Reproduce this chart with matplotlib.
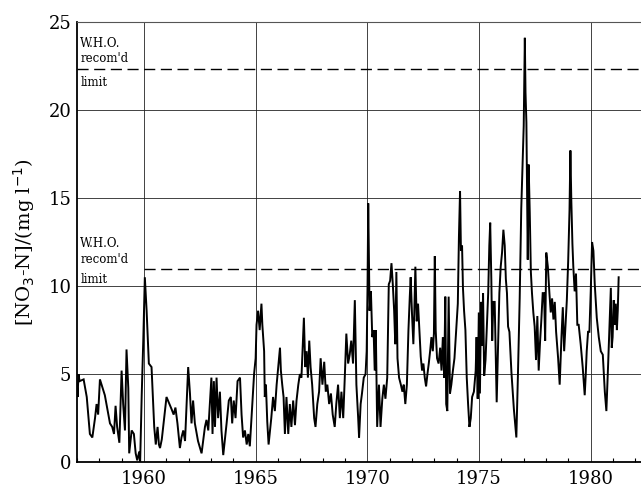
import matplotlib
matplotlib.use("Agg")
import matplotlib.pyplot as plt
import numpy as np

### Nitrate-N series (decimal year, mg/l)
years_early = [1957.0, 1957.03, 1957.07, 1957.12, 1957.3, 1957.44, 1957.58, 1957.69, 1957.81, 1957.88,
               1957.95, 1958.03, 1958.25, 1958.48, 1958.58, 1958.66, 1958.73, 1958.8, 1958.9, 1959.0,
               1959.07, 1959.15, 1959.22, 1959.3, 1959.34, 1959.45, 1959.55, 1959.63, 1959.7, 1959.79,
               1959.83, 1959.9, 1959.97, 1960.04, 1960.12, 1960.22, 1960.34, 1960.46, 1960.53, 1960.61,
               1960.67, 1960.72, 1960.8, 1961.01, 1961.24, 1961.33, 1961.41, 1961.5, 1961.61, 1961.68,
               1961.76, 1961.84, 1961.91, 1961.98, 1962.06, 1962.13, 1962.2, 1962.28, 1962.42, 1962.58,
               1962.73, 1962.8, 1962.88, 1962.95, 1963.02, 1963.07, 1963.13, 1963.18, 1963.25, 1963.32,
               1963.4, 1963.47, 1963.55, 1963.7, 1963.8, 1963.89, 1963.95, 1964.02, 1964.1, 1964.19,
               1964.3, 1964.37, 1964.44, 1964.52, 1964.6, 1964.67, 1964.74, 1964.81, 1964.93]
no3n_early = [4.4, 3.7, 5.0, 4.6, 4.7, 3.7, 1.6, 1.4, 2.5, 3.3,
              2.7, 4.7, 3.8, 2.2, 2.0, 1.6, 3.2, 2.0, 1.1, 5.2,
              3.3, 1.8, 6.4, 4.2, 0.5, 1.8, 1.6, 0.5, 0.1, 0.6,
              0.0, 3.8, 6.9, 10.5, 8.6, 5.6, 5.4, 2.0, 1.0, 2.0,
              1.0, 0.8, 1.3, 3.7, 3.0, 2.7, 3.1, 2.2, 0.8, 1.4,
              1.8, 1.2, 3.3, 5.4, 3.9, 2.2, 3.5, 2.2, 1.2, 0.5,
              2.0, 2.4, 1.8, 3.3, 4.8, 1.6, 4.6, 2.0, 4.8, 2.5,
              4.0, 1.8, 0.4, 2.2, 3.5, 3.7, 2.2, 3.5, 2.5, 4.6,
              4.8, 2.7, 1.4, 1.8, 1.0, 1.6, 0.9, 2.4, 5.0]

years_mid = [1965.0, 1965.04, 1965.11, 1965.18, 1965.26, 1965.3, 1965.38, 1965.41, 1965.46, 1965.52,
             1965.58, 1965.7, 1965.78, 1965.86, 1965.94, 1966.01, 1966.09, 1966.13, 1966.19, 1966.25,
             1966.31, 1966.38, 1966.46, 1966.53, 1966.6, 1966.68, 1966.76, 1966.83, 1966.91, 1966.98,
             1967.05, 1967.1, 1967.16, 1967.22, 1967.28, 1967.34, 1967.4, 1967.46, 1967.53, 1967.62,
             1967.68, 1967.76, 1967.84, 1967.91, 1967.99, 1968.07, 1968.14, 1968.21, 1968.29, 1968.37,
             1968.45, 1968.54, 1968.61, 1968.69, 1968.77, 1968.84, 1968.92, 1968.99, 1969.06, 1969.14,
             1969.21, 1969.28, 1969.36, 1969.44, 1969.51, 1969.59, 1969.63, 1969.7, 1969.76, 1969.84,
             1969.92, 1969.97, 1970.01, 1970.04, 1970.1, 1970.16, 1970.22, 1970.28, 1970.33, 1970.38,
             1970.44, 1970.52, 1970.59, 1970.67, 1970.74, 1970.81, 1970.89, 1970.96, 1971.02, 1971.08,
             1971.14, 1971.2, 1971.25, 1971.3, 1971.35, 1971.42, 1971.5, 1971.57, 1971.63, 1971.7,
             1971.77, 1971.84, 1971.9, 1971.94, 1972.0, 1972.06, 1972.1, 1972.15, 1972.21, 1972.27,
             1972.33, 1972.39, 1972.45, 1972.51, 1972.57, 1972.63, 1972.69, 1972.75, 1972.81, 1972.87,
             1972.93, 1972.98, 1973.02, 1973.06, 1973.12, 1973.19, 1973.26, 1973.32, 1973.38, 1973.44,
             1973.49, 1973.53, 1973.58, 1973.64, 1973.7, 1973.76, 1973.83, 1973.9, 1973.98, 1974.05,
             1974.1, 1974.15, 1974.19, 1974.24, 1974.28, 1974.33, 1974.39, 1974.45, 1974.51, 1974.57,
             1974.63, 1974.69, 1974.77, 1974.85, 1974.89, 1974.94]
no3n_mid = [5.9, 7.8, 8.6, 7.5, 9.0, 7.8, 6.3, 3.7, 4.4, 2.3,
            1.0, 2.5, 3.7, 2.9, 4.4, 5.4, 6.5, 5.2, 4.4, 3.7,
            1.6, 3.7, 1.6, 3.3, 2.0, 3.5, 2.1, 3.5, 4.4, 5.0,
            4.8, 6.3, 8.2, 5.4, 6.3, 4.8, 6.9, 5.4, 4.4, 2.5,
            2.0, 3.3, 4.0, 5.9, 4.4, 5.7, 4.0, 4.4, 3.3, 3.9,
            2.7, 2.0, 3.3, 4.4, 2.5, 4.0, 2.5, 4.8, 7.3, 5.6,
            6.1, 6.9, 5.6, 9.2, 4.4, 2.5, 1.4, 3.3, 3.9, 4.8,
            5.0, 6.3, 10.1, 14.7, 8.6, 9.7, 7.1, 7.5, 5.2, 7.5,
            2.0, 4.4, 2.0, 3.6, 4.4, 3.6, 4.8, 10.1, 10.3, 11.3,
            10.1, 8.6, 6.7, 10.8, 5.9, 4.8, 4.4, 4.0, 4.4, 3.3,
            4.4, 7.5, 9.4, 10.5, 8.4, 6.7, 8.4, 11.1, 8.0, 9.0,
            7.5, 6.0, 5.2, 5.6, 4.8, 4.3, 5.0, 5.6, 6.3, 7.1,
            6.3, 7.3, 11.7, 7.5, 5.9, 5.6, 6.5, 5.2, 7.1, 4.8,
            9.4, 3.3, 2.9, 9.4, 3.9, 4.4, 5.2, 5.9, 7.6, 9.0,
            12.8, 15.4, 12.0, 12.3, 9.9, 8.6, 7.5, 4.8, 3.3, 2.0,
            2.5, 3.7, 4.0, 5.2, 7.1, 3.6]

years_late = [1974.99, 1975.04, 1975.09, 1975.14, 1975.18, 1975.23, 1975.29, 1975.35, 1975.41, 1975.46,
              1975.5, 1975.55, 1975.59, 1975.64, 1975.7, 1975.75, 1975.79, 1975.85, 1975.91, 1975.97,
              1976.03, 1976.09, 1976.15, 1976.2, 1976.25, 1976.3, 1976.36, 1976.45, 1976.56, 1976.67,
              1976.74, 1976.82, 1976.89, 1976.95, 1977.0, 1977.05, 1977.08, 1977.12, 1977.15, 1977.18,
              1977.22, 1977.27, 1977.32, 1977.37, 1977.43, 1977.49, 1977.55, 1977.61, 1977.67, 1977.73,
              1977.79, 1977.85, 1977.91, 1977.96, 1978.01, 1978.08, 1978.15, 1978.21, 1978.27, 1978.33,
              1978.39, 1978.45, 1978.54, 1978.61, 1978.69, 1978.75, 1978.81, 1978.87, 1978.93, 1978.99,
              1979.05, 1979.09, 1979.13, 1979.18, 1979.22, 1979.28, 1979.34, 1979.4, 1979.46, 1979.55,
              1979.64, 1979.73, 1979.77, 1979.82, 1979.88, 1979.94, 1980.0, 1980.06, 1980.12, 1980.18,
              1980.27, 1980.36, 1980.45, 1980.54, 1980.63, 1980.7, 1980.78, 1980.85, 1980.9, 1980.94,
              1980.98, 1981.03, 1981.07, 1981.12, 1981.17, 1981.21, 1981.25]
no3n_late = [8.5, 3.9, 9.1, 6.6, 9.6, 4.9, 5.8, 7.7, 9.6, 12.3,
             13.6, 10.4, 6.9, 9.1, 9.1, 5.8, 3.4, 6.6, 9.6, 11.1,
             11.9, 13.2, 12.3, 10.4, 9.6, 7.7, 7.4, 5.1, 3.0, 1.4,
             4.9, 9.3, 14.4, 17.0, 19.1, 24.1, 21.0, 19.3, 15.3, 11.5,
             16.9, 14.2, 10.8, 9.6, 8.5, 7.7, 5.8, 8.3, 5.2, 6.8,
             8.1, 9.6, 9.6, 6.9, 11.9, 11.1, 9.6, 8.5, 9.3, 8.1,
             9.1, 7.4, 5.9, 4.4, 7.1, 8.8, 6.3, 7.8, 9.2, 11.4,
             14.3, 17.7, 14.9, 12.4, 11.1, 9.7, 10.7, 7.8, 7.8, 6.7,
             5.4, 3.8, 4.8, 6.3, 7.4, 7.4, 9.7, 12.5, 12.0, 10.1,
             8.2, 7.1, 6.3, 6.1, 4.0, 2.9, 5.6, 8.2, 9.9, 6.5,
             7.1, 9.2, 7.8, 9.0, 7.5, 8.6, 10.5]

years = years_early + years_mid + years_late
no3n = no3n_early + no3n_mid + no3n_late

who_limits = [22.3, 10.95]
who_start = [1957.0, 1960.0]

### matplotlib settings
matplotlib.rc("font", family="DejaVu Serif")
matplotlib.rc("xtick", direction="in", labelsize=13)
matplotlib.rc("ytick", direction="in", labelsize=13)

fig = plt.figure(figsize=(6.41, 4.88), dpi=100)
ax = fig.add_axes([0.120, 0.053, 0.880, 0.902])

ax.set_xlim(1957.0, 1982.25)
ax.set_ylim(0, 25)
ax.set_xticks([1960, 1965, 1970, 1975, 1980])
ax.set_xticks(np.arange(1957, 1983), minor=True)
ax.set_yticks([0, 5, 10, 15, 20, 25])
ax.tick_params(axis="x", which="major", length=0, pad=6)
ax.tick_params(axis="x", which="minor", length=3, width=0.8)
ax.tick_params(axis="y", which="major", length=0, pad=4)
ax.grid(True, which="major", color="#222222", linewidth=0.6)
ax.set_axisbelow(True)

ax.spines["right"].set_visible(False)
for s in ["left", "bottom"]:
    ax.spines[s].set_linewidth(1.3)
ax.spines["top"].set_linewidth(0.8)
ax.spines["top"].set_color("#555555")

### W.H.O. limit lines
for lim, x0 in zip(who_limits, who_start):
    ax.plot([x0, 1982.25], [lim, lim], color="black", linewidth=1.0,
            linestyle=(0, (8, 4)), zorder=3)

ax.text(1957.15, 22.55, "W.H.O.\nrecom'd", fontsize=8.5, va="bottom", ha="left",
        linespacing=1.25)
ax.text(1957.15, 21.95, "limit", fontsize=8.5, va="top", ha="left")
ax.text(1957.15, 11.15, "W.H.O.\nrecom'd", fontsize=8.5, va="bottom", ha="left",
        linespacing=1.25)
ax.text(1957.15, 10.75, "limit", fontsize=8.5, va="top", ha="left")

### data series
ax.plot(years, no3n, color="black", linewidth=1.4, solid_joinstyle="miter", zorder=4)

ax.set_ylabel(r"[NO$_3$-N]/(mg l$^{-1}$)", fontsize=14, labelpad=8)

fig.savefig("out.png", dpi=100)
